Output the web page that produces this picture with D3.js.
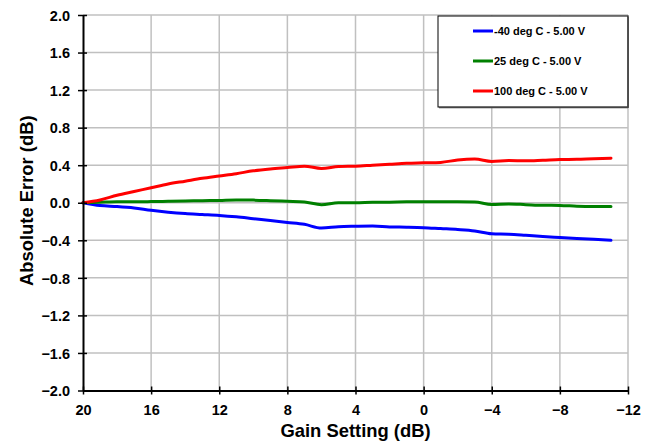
<!DOCTYPE html>
<html><head><meta charset="utf-8">
<script src="https://cdn.jsdelivr.net/npm/d3@7"></script>
<style>body{margin:0;background:#fff}svg{display:block;font-family:"Liberation Sans",Arial,sans-serif;font-weight:bold}</style>
</head><body><svg id="c" width="653" height="442"></svg>
<script>
const gains = [20,19,18,17,16,15,14,13,12,11,10,9,8,7,6,5,4,3,2,1,0,-1,-2,-3,-4,-5,-6,-7,-8,-9,-10,-11];
const errM40 = [0,-0.03,-0.04,-0.055,-0.08,-0.10,-0.115,-0.125,-0.135,-0.15,-0.17,-0.19,-0.21,-0.23,-0.27,-0.255,-0.25,-0.247,-0.257,-0.26,-0.265,-0.275,-0.285,-0.30,-0.33,-0.335,-0.347,-0.36,-0.37,-0.38,-0.39,-0.40];
const err25 = [0,0.005,0.01,0.01,0.012,0.015,0.018,0.022,0.025,0.03,0.028,0.022,0.015,0.008,-0.02,0,0,0.005,0.006,0.01,0.01,0.01,0.01,0.008,-0.018,-0.013,-0.02,-0.027,-0.028,-0.037,-0.04,-0.04];
const err100 = [0,0.03,0.08,0.12,0.16,0.20,0.23,0.26,0.285,0.31,0.34,0.36,0.375,0.39,0.365,0.385,0.39,0.40,0.41,0.42,0.425,0.43,0.455,0.465,0.44,0.45,0.447,0.453,0.46,0.463,0.47,0.475];
const seriesNames = ["-40 deg C - 5.00 V","25 deg C - 5.00 V","100 deg C - 5.00 V"];
const seriesColors = ["#0000ff","#008000","#ff0000"];
const xTicks = [20,16,12,8,4,0,-4,-8,-12];
const yTicks = [2.0,1.6,1.2,0.8,0.4,0.0,-0.4,-0.8,-1.2,-1.6,-2.0];
const xTitle = "Gain Setting (dB)", yTitle = "Absolute Error (dB)";

const svg = d3.select("#c");
const L=83, R=628, T=15, B=390.5;
const x = d3.scaleLinear().domain([20,-12]).range([L,R]);
const y = d3.scaleLinear().domain([-2,2]).range([B,T]);

// grid
const g = svg.append("g");
g.selectAll(".gx").data(xTicks.slice(1)).join("line")
 .attr("x1",d=>x(d)).attr("x2",d=>x(d)).attr("y1",T).attr("y2",B)
 .attr("stroke","#c0c0c0").attr("stroke-width",1.5);
g.selectAll(".gy").data(yTicks.slice(0,-1)).join("line")
 .attr("x1",L).attr("x2",R).attr("y1",d=>y(d)).attr("y2",d=>y(d))
 .attr("stroke","#c0c0c0").attr("stroke-width",1.5);

// series
const data = [errM40, err25, err100];
const line = d3.line().x((d,i)=>x(gains[i])).y(d=>y(d)).curve(d3.curveMonotoneX);
data.forEach((s,k)=>{
  svg.append("path").datum(s).attr("d",line).attr("fill","none")
   .attr("stroke",seriesColors[k]).attr("stroke-width",3).attr("stroke-linejoin","round").attr("stroke-linecap","round");
});

// axes
const yAx = svg.append("g").attr("transform",`translate(${L},0)`);
yAx.call(d3.axisLeft(y).tickValues(d3.range(-2,2.01,0.2)).tickFormat("").tickSize(3).tickSizeOuter(0));
yAx.call(d3.axisLeft(y).tickValues(yTicks).tickFormat(d3.format(".1f")).tickSize(5).tickSizeOuter(0))
yAx.selectAll("line").attr("stroke","#000").attr("stroke-width",1.5);
yAx.selectAll(".tick line").each(function(){const s=d3.select(this);const x2=+s.attr("x2");s.attr("x1",-x2*0.8);});
yAx.select(".domain").attr("stroke","#000").attr("stroke-width",2);
yAx.selectAll("text").attr("font-size",14.5).attr("font-weight","bold").attr("font-family","Liberation Sans, Arial").attr("x",-13).attr("dy","0.36em");

const xAx = svg.append("g").attr("transform",`translate(0,${B})`);
xAx.call(d3.axisBottom(x).tickValues(d3.range(-12,20.01,2)).tickFormat("").tickSize(3).tickSizeOuter(0));
xAx.call(d3.axisBottom(x).tickValues(xTicks).tickFormat(d3.format("d")).tickSize(4).tickSizeOuter(0));
xAx.selectAll("line").attr("stroke","#000").attr("stroke-width",1.5);
xAx.selectAll(".tick line").each(function(){const s=d3.select(this);const y2=+s.attr("y2");s.attr("y1",-y2);});
xAx.select(".domain").attr("stroke","#000").attr("stroke-width",2);
xAx.selectAll("text").attr("font-size",14.5).attr("font-weight","bold").attr("font-family","Liberation Sans, Arial").attr("y",24).attr("dy",null);

// titles
svg.append("text").attr("x",(L+R)/2).attr("y",437).attr("text-anchor","middle")
 .attr("font-size",18.4).text(xTitle);
svg.append("text").attr("transform",`translate(33,${(T+B)/2 - 2}) rotate(-90)`).attr("text-anchor","middle")
 .attr("font-size",18.4).text(yTitle);

// legend
const lg = svg.append("g");
lg.append("rect").attr("x",438).attr("y",16).attr("width",190).attr("height",91).attr("fill","#fff").attr("stroke","#000").attr("stroke-width",1);
lg.append("line").attr("x1",628).attr("x2",628).attr("y1",17).attr("y2",108).attr("stroke","#444").attr("stroke-width",1.5);
lg.append("line").attr("x1",439).attr("x2",628).attr("y1",107.5).attr("y2",107.5).attr("stroke","#444").attr("stroke-width",1.5);
seriesNames.forEach((n,i)=>{
  const yy = 31 + i*30;
  lg.append("line").attr("x1",473).attr("x2",493).attr("y1",yy).attr("y2",yy).attr("stroke",seriesColors[i]).attr("stroke-width",3);
  lg.append("text").attr("x",494).attr("y",yy).attr("dy","0.35em").attr("font-size",11).text(n);
});
</script></body></html>
